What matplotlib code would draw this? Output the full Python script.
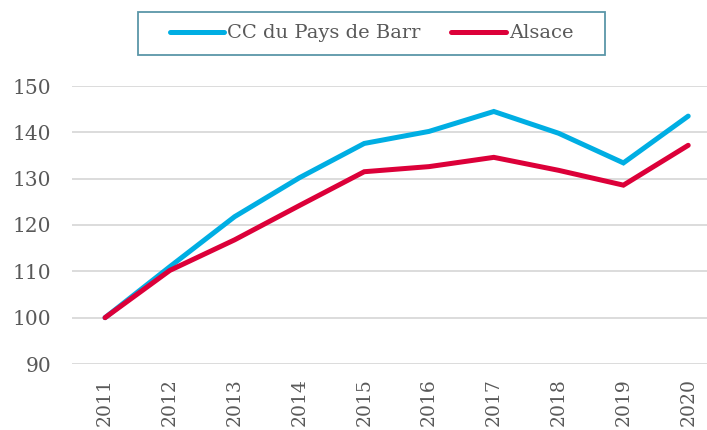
import matplotlib
matplotlib.use('Agg')
import matplotlib.pyplot as plt
from matplotlib.patches import Rectangle

years = ['2011', '2012', '2013', '2014', '2015', '2016', '2017', '2018', '2019', '2020']
barr = [100, 111, 121.8, 130.2, 137.6, 140.2, 144.5, 139.8, 133.4, 143.5]
alsace = [100, 110.2, 116.8, 124.2, 131.5, 132.6, 134.6, 131.8, 128.6, 137.2]

plt.rcParams['font.family'] = ['DejaVu Serif']
text_color = '#595959'

W, H = 707, 430
fig = plt.figure(figsize=(W / 100, H / 100), dpi=100)
ax = fig.add_axes([72 / W, 1 - 364 / H, 1 - 72 / W, (364 - 86) / H])

x = list(range(len(years)))
ax.plot(x, barr, color='#00aee3', lw=3.6, solid_capstyle='round', solid_joinstyle='miter',
        label='CC du Pays de Barr', zorder=3)
ax.plot(x, alsace, color='#dc0039', lw=3.6, solid_capstyle='round', solid_joinstyle='miter',
        label='Alsace', zorder=4)

ax.set_ylim(90, 150)
ax.set_yticks(range(90, 151, 10))
ax.set_xlim(-0.51, 9.29)
ax.set_xticks(x)
ax.set_xticklabels(years, rotation=90)
ax.yaxis.grid(True, color='#d9d9d9', lw=1.3)
ax.set_axisbelow(True)
for s in ax.spines.values():
    s.set_visible(False)
ax.tick_params(length=0, labelsize=14.5, colors=text_color)
ax.tick_params(axis='y', pad=15)
ax.tick_params(axis='x', pad=10, labelsize=13.5)

# legend frame drawn separately
fig.patches.append(Rectangle((138 / W, 1 - 55 / H), (605 - 138) / W, 43 / H,
                             transform=fig.transFigure, fill=False,
                             edgecolor='#5a96a8', lw=1.3))
fig.legend(loc='center', bbox_to_anchor=((138 + 605) / 2 / W, 1 - 33.5 / H), ncol=2,
           frameon=False, fontsize=14, handlelength=2.8, handletextpad=0.15,
           columnspacing=1.6, labelcolor=text_color)

fig.savefig('out.png', dpi=100)
